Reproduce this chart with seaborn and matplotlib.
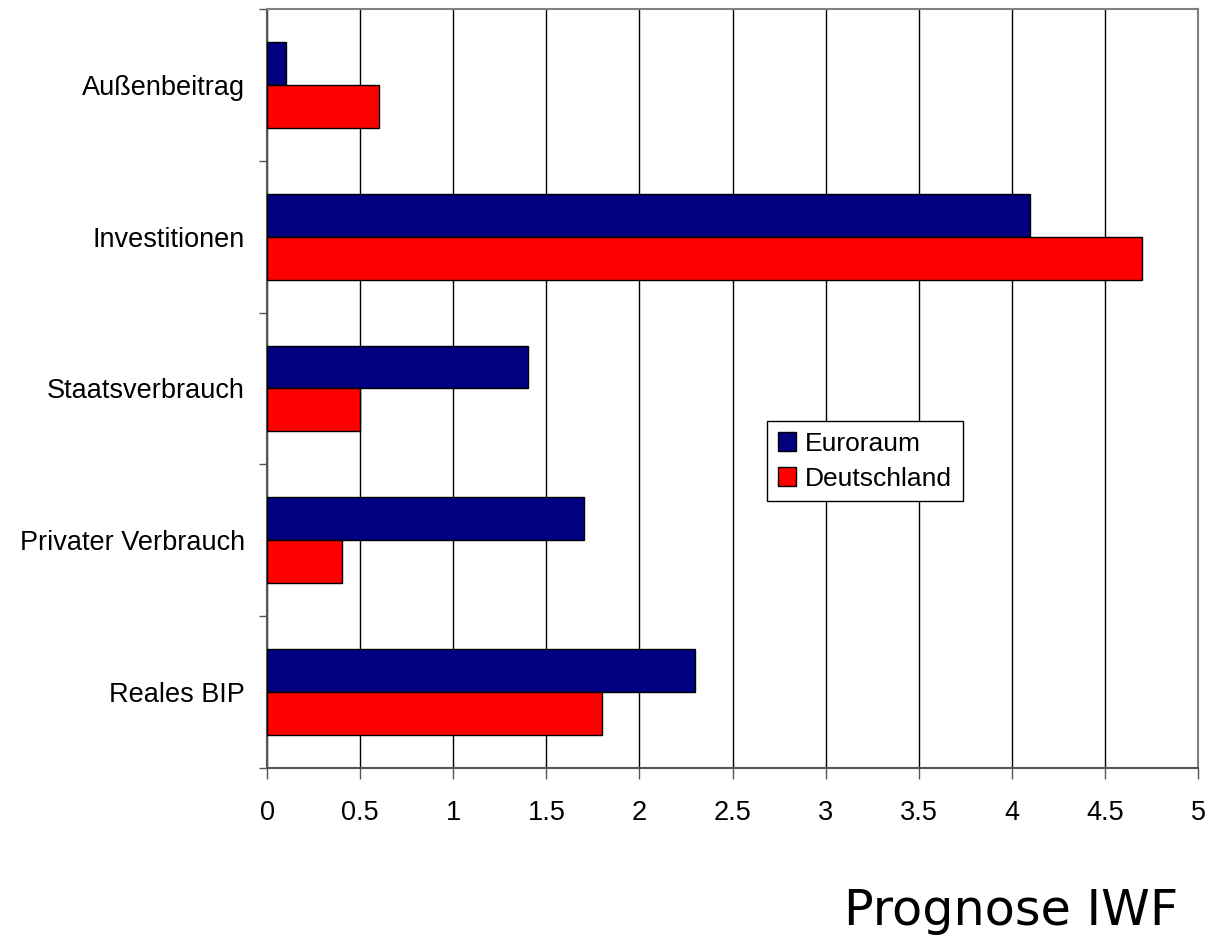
import pandas as pd
import seaborn as sns
import matplotlib.pyplot as plt

categories = ['Außenbeitrag', 'Investitionen', 'Staatsverbrauch', 'Privater Verbrauch', 'Reales BIP']
euroraum = [0.1, 4.1, 1.4, 1.7, 2.3]
deutschland = [0.6, 4.7, 0.5, 0.4, 1.8]
series = ['Euroraum', 'Deutschland']
x_ticks = [0, 0.5, 1, 1.5, 2, 2.5, 3, 3.5, 4, 4.5, 5]

df = pd.DataFrame({
    'Kategorie': categories * 2,
    'Wert': euroraum + deutschland,
    'Reihe': [series[0]] * len(categories) + [series[1]] * len(categories),
})

sns.set_style('white')
plt.rcParams['font.family'] = ['Liberation Sans', 'DejaVu Sans']
plt.rcParams['text.color'] = 'black'
plt.rcParams['xtick.labelcolor'] = 'black'
plt.rcParams['ytick.labelcolor'] = 'black'

fig = plt.figure(figsize=(12.1, 9.35), dpi=100)
ax = fig.add_axes([0.2207, 0.1786, 0.7694, 0.8118])

sns.barplot(data=df, y='Kategorie', x='Wert', hue='Reihe', orient='h',
            order=categories, hue_order=series, palette=['#000080', '#ff0000'],
            width=0.566, edgecolor='black', linewidth=1, saturation=1, ax=ax,
            zorder=3)

ax.set_xlim(0, 5)
ax.set_ylim(4.5, -0.5)
ax.set_xticks(x_ticks)
ax.set_xticklabels([f'{t:g}' for t in x_ticks], fontsize=19.5)
ax.xaxis.grid(True, color='black', linewidth=1)
ax.set_axisbelow(True)

# category boundaries get the tick marks, labels sit in the middle
ax.set_yticks([i - 0.5 for i in range(len(categories) + 1)])
ax.set_yticklabels([])
ax.set_yticks(range(len(categories)), minor=True)
ax.set_yticklabels(categories, minor=True, fontsize=19.5)
ax.tick_params(axis='y', which='major', length=6, width=1, color='#555555', left=True)
ax.tick_params(axis='y', which='minor', length=0, pad=16)
ax.tick_params(axis='x', length=8, width=1, color='#555555', bottom=True, pad=15)

for side in ['top', 'right', 'left', 'bottom']:
    ax.spines[side].set_color('#808080')
    ax.spines[side].set_linewidth(1.5)
ax.spines['left'].set_color('#555555')
ax.spines['bottom'].set_color('#555555')

ax.set_xlabel('')
ax.set_ylabel('')

leg = ax.legend(loc='upper left', bbox_to_anchor=(0.537, 0.457), fontsize=19,
                frameon=True, fancybox=False, edgecolor='black', framealpha=1,
                handlelength=0.7, handleheight=0.7, handletextpad=0.35,
                borderpad=0.4, labelspacing=0.42, borderaxespad=0)
leg.get_frame().set_linewidth(1)

fig.text(0.9736, 0.0107, 'Prognose IWF', ha='right', va='baseline', fontsize=35.5,
         family='DejaVu Sans')

fig.savefig('out.png', dpi=100)
